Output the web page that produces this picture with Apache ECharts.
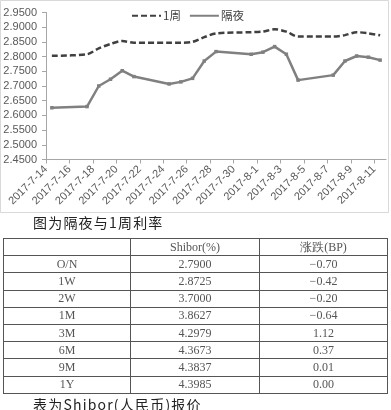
<!DOCTYPE html>
<html><head><meta charset="utf-8">
<script src="https://cdn.jsdelivr.net/npm/echarts@6/dist/echarts.min.js"></script>
<style>
html,body{margin:0;padding:0;background:#fff;width:391px;height:410px;overflow:hidden;position:relative;}
#chart{position:absolute;left:0;top:0;width:391px;height:214px;}
.cap{position:absolute;left:33px;font-family:"Noto Sans CJK SC";font-size:14px;color:#222;line-height:16px;white-space:nowrap;letter-spacing:1.2px;}
table{position:absolute;left:3px;top:238px;width:385px;border-collapse:collapse;font-family:"Liberation Serif","DejaVu Serif",serif;font-size:12px;color:#555;}
td{border:1px solid #555;height:16.2px;padding:0;text-align:center;line-height:15px;}
td.c3{border-left:1.5px solid #999;}
</style></head>
<body>
<div id="chart"></div>
<div class="cap" style="top:214px">图为隔夜与1周利率</div>
<table id="tbl"></table>
<div class="cap" style="top:396px">表为Shibor(人民币)报价</div>
<script>
var dates = ['2017-7-14','2017-7-17','2017-7-18','2017-7-19','2017-7-20','2017-7-21','2017-7-24','2017-7-25','2017-7-26','2017-7-27','2017-7-28','2017-7-31','2017-8-1','2017-8-2','2017-8-3','2017-8-4','2017-8-7','2017-8-8','2017-8-9','2017-8-10','2017-8-11'];
var week1 = [2.803,2.808,2.828,2.843,2.853,2.847,2.847,2.847,2.850,2.866,2.879,2.883,2.885,2.893,2.885,2.868,2.868,2.873,2.883,2.879,2.8725];
var overnight = [2.626,2.630,2.700,2.723,2.752,2.732,2.707,2.714,2.726,2.785,2.817,2.808,2.815,2.834,2.808,2.720,2.737,2.785,2.802,2.798,2.788];
var xTickLabels = ['2017-7-14','2017-7-16','2017-7-18','2017-7-20','2017-7-22','2017-7-24','2017-7-26','2017-7-28','2017-7-30','2017-8-1','2017-8-3','2017-8-5','2017-8-7','2017-8-9','2017-8-11'];
var yTicks = [2.45,2.95,0.05];
var seriesNames = ['1周','隔夜'];
var tenors = ['O/N','1W','2W','1M','3M','6M','9M','1Y'];
var shibor = ['2.7900','2.8725','3.7000','3.8627','4.2979','4.3673','4.3837','4.3985'];
var change = ['\u22120.70','\u22120.42','\u22120.20','\u22120.64','1.12','0.37','0.01','0.00'];
var tableHeader = ['','Shibor(%)','涨跌(BP)'];

function dayIdx(s){var p=s.split('-');return Math.round((Date.UTC(+p[0],+p[1]-1,+p[2])-Date.UTC(2017,6,14))/86400000);}
var tickPos = xTickLabels.map(dayIdx);
var labelMap = {}; xTickLabels.forEach(function(l,i){labelMap[tickPos[i]]=l;});
var lastDay = dayIdx(dates[dates.length-1]) + 1;

var chart = echarts.init(document.getElementById('chart'), null, {renderer:'canvas'});
chart.setOption({
  animation:false,
  graphic:[{type:'rect',shape:{x:0.5,y:0.5,width:388,height:212},style:{fill:'none',stroke:'#d9d9d9',lineWidth:1},silent:true}],
  legend:{left:126,top:5,itemWidth:29,itemHeight:8,itemGap:8,
    textStyle:{fontFamily:'Noto Sans CJK SC',fontSize:11.5,color:'#404040',padding:[0,0,0,-3]},
    itemStyle:{opacity:0},
    data:seriesNames},
  grid:{left:46,right:5,top:12.5,bottom:54.5,containLabel:false},
  xAxis:{type:'value',min:0,max:lastDay,
    axisLine:{show:true,lineStyle:{color:'#a6a6a6',width:1}},
    axisTick:{show:true,length:4,lineStyle:{color:'#a6a6a6'},customValues:tickPos},
    splitLine:{show:false},
    axisLabel:{customValues:tickPos,rotate:45,fontFamily:'Liberation Sans',fontSize:11,color:'#595959',margin:8,
      formatter:function(v){return labelMap[Math.round(v)]||'';}}},
  yAxis:{type:'value',min:yTicks[0],max:yTicks[1],interval:yTicks[2],
    axisLine:{show:true,lineStyle:{color:'#a6a6a6',width:1}},
    axisTick:{show:true,length:4,lineStyle:{color:'#a6a6a6'}},
    splitLine:{show:false},
    axisLabel:{fontFamily:'Liberation Sans',fontSize:11,color:'#595959',margin:9,
      formatter:function(v){return v.toFixed(4);}}},
  series:[
    {name:seriesNames[0],type:'line',smooth:0.3,symbol:'none',
     data:dates.map(function(d,i){return [dayIdx(d)+0.5,week1[i]];}),
     lineStyle:{color:'#404040',width:2.5,type:[6,3]},itemStyle:{color:'#404040'}},
    {name:seriesNames[1],type:'line',symbol:'rect',symbolSize:3.5,
     data:dates.map(function(d,i){return [dayIdx(d)+0.5,overnight[i]];}),
     lineStyle:{color:'#808080',width:2.5},itemStyle:{color:'#808080'}}
  ]
});

var tbl = document.getElementById('tbl');
var html = '<tr><td style="width:126px">'+tableHeader[0]+'</td><td style="width:128px">'+tableHeader[1]+'</td><td class="c3">'+tableHeader[2]+'</td></tr>';
for (var i=0;i<tenors.length;i++){
  html += '<tr><td>'+tenors[i]+'</td><td>'+shibor[i]+'</td><td class="c3">'+change[i]+'</td></tr>';
}
tbl.innerHTML = html;
</script>
</body></html>
